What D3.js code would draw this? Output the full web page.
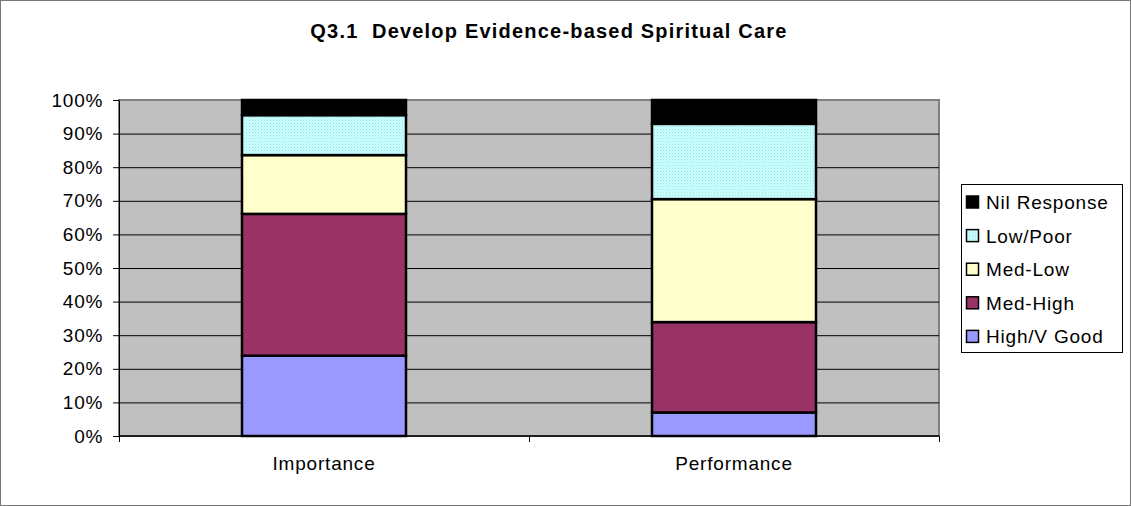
<!DOCTYPE html>
<html>
<head>
<meta charset="utf-8">
<script src="https://cdn.jsdelivr.net/npm/d3@7"></script>
<style>
  body { margin: 0; background: #fff; }
  text { font-family: "Liberation Sans", Arial, sans-serif; }
</style>
</head>
<body>
<script>
// data
var categories = ['Importance', 'Performance'];
var seriesNames = ['High/V Good', 'Med-High', 'Med-Low', 'Low/Poor', 'Nil Response'];
var highVGood   = [23.9, 7.0];
var medHigh     = [42.2, 26.9];
var medLow      = [17.5, 36.6];
var lowPoor     = [11.9, 22.4];
var nilResponse = [4.5, 7.1];
var yTicks = [0, 10, 20, 30, 40, 50, 60, 70, 80, 90, 100];

var colors = ['#9999ff', '#993366', '#ffffcc', 'url(#dots)', '#000000'];

var w = 1131, h = 506;
var plotLeft = 119, plotRight = 939, plotTop = 100, plotBottom = 436;
var font = '"Liberation Sans", Arial, sans-serif';

var table = categories.map(function(c, i) {
    return {cat: c, 'High/V Good': highVGood[i], 'Med-High': medHigh[i],
            'Med-Low': medLow[i], 'Low/Poor': lowPoor[i], 'Nil Response': nilResponse[i]};
});
var stacked = d3.stack().keys(seriesNames)(table);

var xScale = d3.scaleBand()
    .domain(categories)
    .range([plotLeft, plotRight])
    .paddingInner(0.6)
    .paddingOuter(0.3);
var xOuter = d3.scaleBand().domain(categories).range([plotLeft, plotRight]);

var yScale = d3.scaleLinear()
    .domain([0, 100])
    .range([plotBottom, plotTop]);

var svg = d3.select('body')
    .append('svg')
    .attr('width', w)
    .attr('height', h);

var defs = svg.append('defs');
var pat = defs.append('pattern')
    .attr('id', 'dots')
    .attr('width', 3).attr('height', 3)
    .attr('patternUnits', 'userSpaceOnUse');
pat.append('rect').attr('width', 3).attr('height', 3).attr('fill', '#ccffff');
pat.append('rect').attr('width', 1).attr('height', 1).attr('fill', '#99dddd');
pat.append('rect').attr('x', 1.5).attr('y', 1.5).attr('width', 1).attr('height', 1).attr('fill', '#aee8e8');

// outer border
svg.append('rect')
    .attr('x', 0.5).attr('y', 0.5)
    .attr('width', w - 1).attr('height', h - 1)
    .attr('fill', '#fff')
    .attr('stroke', '#777');

// title
svg.append('text')
    .attr('x', 549).attr('y', 38)
    .attr('text-anchor', 'middle')
    .attr('font-size', '20px')
    .attr('font-weight', 'bold')
    .attr('letter-spacing', '1.2px')
    .style('white-space', 'pre')
    .text('Q3.1  Develop Evidence-based Spiritual Care');

// plot area
svg.append('rect')
    .attr('x', plotLeft).attr('y', plotTop)
    .attr('width', plotRight - plotLeft).attr('height', plotBottom - plotTop)
    .attr('fill', '#c0c0c0')
    .attr('stroke', '#808080')
    .attr('stroke-width', 2);

// gridlines
svg.append('g')
    .selectAll('line')
    .data(yTicks.slice(1, -1))
    .enter()
    .append('line')
    .attr('x1', plotLeft).attr('x2', plotRight)
    .attr('y1', d => yScale(d) + 0.5).attr('y2', d => yScale(d) + 0.5)
    .attr('stroke', '#000')
    .attr('stroke-width', 1);

// bars
svg.append('g')
    .selectAll('g')
    .data(stacked)
    .enter()
    .append('g')
    .attr('fill', (d, i) => colors[i])
    .selectAll('rect')
    .data(d => d)
    .enter()
    .append('rect')
    .attr('x', d => xScale(d.data.cat))
    .attr('width', xScale.bandwidth())
    .attr('y', d => yScale(d[1]))
    .attr('height', d => yScale(d[0]) - yScale(d[1]))
    .attr('stroke', '#000')
    .attr('stroke-width', 2.5);

// axes
var yAxis = d3.axisLeft(yScale)
    .tickValues(yTicks)
    .tickSize(6)
    .tickPadding(10)
    .tickFormat(d => d + '%');
var gy = svg.append('g')
    .attr('transform', 'translate(' + plotLeft + ',0)')
    .call(yAxis);
gy.selectAll('text').attr('font-size', '19px').attr('letter-spacing', '0.7px')
    .attr('font-family', font).attr('fill', '#000');
gy.selectAll('line').attr('stroke', '#000');
gy.select('.domain').attr('stroke', '#000');

var xAxis = d3.axisBottom(xOuter).tickSize(0).tickPadding(21);
var gx = svg.append('g')
    .attr('transform', 'translate(0,' + plotBottom + ')')
    .call(xAxis);
gx.select('.domain').attr('stroke', '#000').attr('stroke-width', 1.5)
    .attr('d', 'M' + plotLeft + ',0H' + plotRight);
gx.selectAll('text').attr('font-size', '19px').attr('letter-spacing', '0.8px')
    .attr('font-family', font).attr('fill', '#000');

// category boundary ticks
svg.append('g')
    .selectAll('line')
    .data(categories.concat(['end']))
    .enter()
    .append('line')
    .attr('x1', (d, i) => i < categories.length ? xOuter(d) + 0.5 : plotRight + 0.5)
    .attr('x2', (d, i) => i < categories.length ? xOuter(d) + 0.5 : plotRight + 0.5)
    .attr('y1', plotBottom).attr('y2', plotBottom + 6)
    .attr('stroke', '#000');

// legend
var legend = svg.append('g');
legend.append('rect')
    .attr('x', 961.5).attr('y', 184.5)
    .attr('width', 161).attr('height', 168)
    .attr('fill', '#fff')
    .attr('stroke', '#000');
var items = legend.selectAll('g.item')
    .data(seriesNames.slice().reverse())
    .enter()
    .append('g')
    .attr('class', 'item')
    .attr('transform', (d, i) => 'translate(966,' + (202 + i * 33.6) + ')');
items.append('rect')
    .attr('x', 0.5).attr('y', -6)
    .attr('width', 12).attr('height', 12)
    .attr('fill', d => colors[seriesNames.indexOf(d)])
    .attr('stroke', '#000')
    .attr('stroke-width', 1.5);
items.append('text')
    .attr('x', 20).attr('y', 7)
    .attr('font-size', '19px')
    .attr('letter-spacing', '0.8px')
    .text(d => d);
</script>
</body>
</html>
